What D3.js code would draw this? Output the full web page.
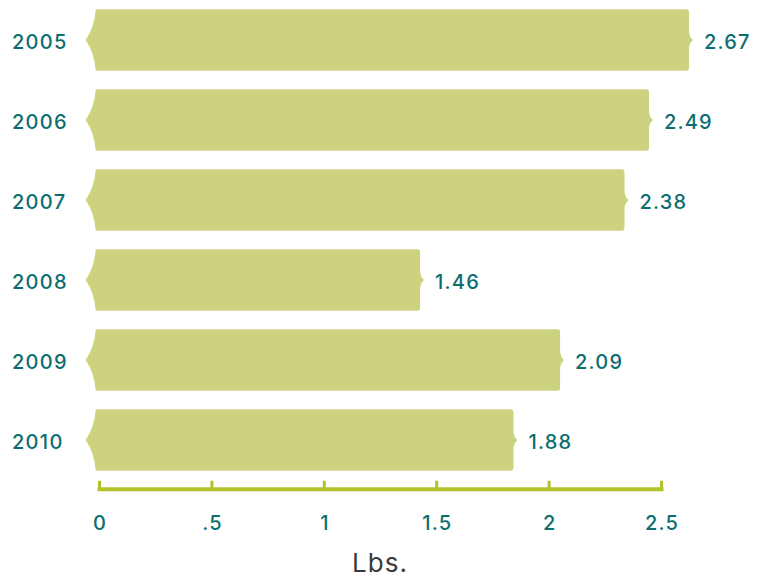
<!DOCTYPE html>
<html>
<head>
<meta charset="utf-8">
<script src="https://cdn.jsdelivr.net/npm/d3@7"></script>
<style>
  body { margin: 0; background: #fff; }
  svg { display: block; font-family: Inter, "Noto Sans", sans-serif; }
</style>
</head>
<body>
<div id="chart"></div>
<script>
const years = ['2005', '2006', '2007', '2008', '2009', '2010'];
const lbs = [2.67, 2.49, 2.38, 1.46, 2.09, 1.88];
const tickValues = [0, 0.5, 1, 1.5, 2, 2.5];
const tickLabels = ['0', '.5', '1', '1.5', '2', '2.5'];
const axisTitle = 'Lbs.';

const width = 767;
const height = 578;
const barColor = '#cdd27e';
const textColor = '#0d6e70';
const axisColor = '#b4c22a';

const svg = d3.select('#chart')
  .append('svg')
  .attr('width', width)
  .attr('height', height)

// bars and axis are drawn a bit differently in the original, so two scales
const xBar = d3.scaleLinear()
  .domain([0, 2.5])
  .range([95.7, 95.7 + 2.5 * 222.2])

const xAxisScale = d3.scaleLinear()
  .domain([0, 2.5])
  .range([99, 661])

const yScale = d3.scaleBand()
  .domain(years)
  .range([0, 480])
  .paddingInner(0.23)
  .paddingOuter(0.115)

// ribbon-like bar: notched left end, rounded right end with a small point
let barPath = (d, i) => {
  const x0 = xBar(0);
  const x1 = xBar(d);
  const t = yScale(years[i]);
  const h = yScale.bandwidth();
  const b = t + h;
  const m = t + h / 2;
  const r = 3;
  const p = d3.path();
  p.moveTo(x0, t);
  p.lineTo(x1 - r, t);
  p.quadraticCurveTo(x1, t, x1, t + r);
  p.lineTo(x1, m - 8);
  p.quadraticCurveTo(x1 + 0.5, m - 3, x1 + 4, m);
  p.quadraticCurveTo(x1 + 0.5, m + 3, x1, m + 8);
  p.lineTo(x1, b - r);
  p.quadraticCurveTo(x1, b, x1 - r, b);
  p.lineTo(x0, b);
  p.quadraticCurveTo(x0 - 1, b - h * 0.28, x0 - 10, m);
  p.quadraticCurveTo(x0 - 1, t + h * 0.28, x0, t);
  p.closePath();
  return p.toString();
}

svg.selectAll('path.bar')
  .data(lbs)
  .enter()
  .append('path')
  .attr('class', 'bar')
  .attr('d', barPath)
  .style('fill', barColor)

svg.selectAll('text.year')
  .data(years)
  .enter()
  .append('text')
  .attr('class', 'year')
  .attr('x', 12)
  .attr('y', d => yScale(d) + yScale.bandwidth() / 2 + 9.3)
  .style('font-size', '20px')
  .style('font-weight', 500)
  .style('letter-spacing', '1.3px')
  .style('fill', textColor)
  .text(d => d)

svg.selectAll('text.value')
  .data(lbs)
  .enter()
  .append('text')
  .attr('class', 'value')
  .attr('x', d => xBar(d) + 15)
  .attr('y', (d, i) => yScale(years[i]) + yScale.bandwidth() / 2 + 9)
  .style('font-size', '20px')
  .style('font-weight', 500)
  .style('letter-spacing', '1.2px')
  .style('fill', textColor)
  .text(d => d.toFixed(2))

let xAxis = d3.axisBottom()
  .scale(xAxisScale)
  .tickValues(tickValues)
  .tickFormat((d, i) => tickLabels[i])
  .tickSizeInner(-7)
  .tickSizeOuter(0)
  .tickPadding(27)

const axisG = svg.append('g')
  .attr('id', 'x-axis')
  .attr('transform', 'translate(0, 488.7)')
  .call(xAxis)

axisG.select('.domain')
  .attr('stroke', axisColor)
  .attr('stroke-width', 4)
  .attr('stroke-linecap', 'square')

axisG.selectAll('.tick line')
  .attr('stroke', axisColor)
  .attr('stroke-width', 3)
  .attr('y2', -8)

axisG.selectAll('.tick text')
  .attr('y', 27)
  .attr('dx', '0.6px')
  .style('font-family', 'Inter, "Noto Sans", sans-serif')
  .style('font-size', '20px')
  .style('font-weight', 500)
  .style('letter-spacing', '1.2px')
  .style('fill', textColor)

svg.append('text')
  .attr('x', 380)
  .attr('y', 571.5)
  .attr('text-anchor', 'middle')
  .style('font-size', '26px')
  .style('letter-spacing', '1px')
  .style('fill', '#3b3b3b')
  .text(axisTitle)
</script>
</body>
</html>
